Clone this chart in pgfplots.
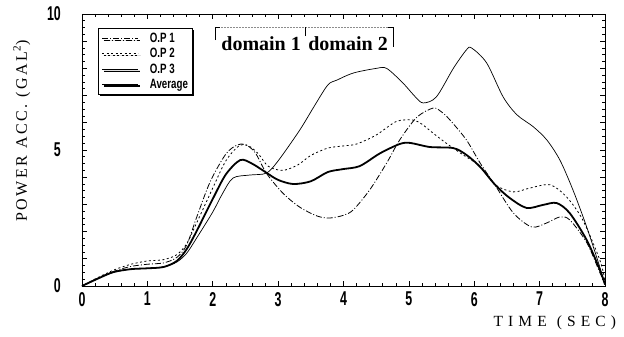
\documentclass[border=0pt]{standalone}
\usepackage{fontspec}
\setmainfont{Liberation Serif}
\usepackage{pgfplots}
\pgfplotsset{compat=1.18}
\usetikzlibrary{shadows}
\newfontfamily\tickfont[FakeStretch=0.62]{Liberation Sans}
\newfontfamily\legfont[FakeStretch=0.72]{Liberation Sans}
\newfontfamily\labfont[LetterSpace=16]{Liberation Serif}
\newfontfamily\xlabfont[LetterSpace=33]{Liberation Serif}
\newfontfamily\domfont{Liberation Serif}
\begin{document}
\begin{tikzpicture}
\begin{axis}[
  scale only axis, width=523pt, height=272pt,
  xmin=0, xmax=8, ymin=0, ymax=10,
  xtick={0,...,8}, minor x tick num=4,
  ytick={0,...,10}, yticklabels={0,,,,,5,,,,,10}, minor y tick num=3,
  tick align=inside, tick pos=both,
  major tick length=5pt, minor tick length=3pt,
  axis line style={line width=0.9pt},
  every tick/.style={black, line width=0.6pt},
  tick label style={font=\tickfont\bfseries\fontsize{20}{20}\selectfont},
  /pgf/number format/assume math mode=true,
  xticklabel style={inner sep=0pt, yshift=-6pt, anchor=north},
  yticklabel style={inner sep=0pt, xshift=-21pt, anchor=east},
  legend style={at={(0.031,0.949)}, anchor=north west, draw=black, line width=0.8pt, fill=white,
    drop shadow={shadow xshift=1.8pt, shadow yshift=-1.8pt, fill=black, opacity=1},
    font=\legfont\bfseries\fontsize{13.5}{13.5}\selectfont, inner sep=2.5pt, row sep=0.5pt,
    cells={anchor=west}, column sep=9pt},
  legend image code/.code={\draw[#1] (0pt,0pt) -- (36pt,0pt);},
  clip=false,
]
% O.P 1 (dash-dot)
\addplot[black, line width=0.8pt, smooth, tension=0.5, dash pattern=on 6pt off 2pt on 1pt off 2pt] coordinates {
(0,0) (0.25,0.3) (0.5,0.55) (0.75,0.72) (1.0,0.8) (1.25,0.85) (1.45,1.05) (1.6,1.5) (1.75,2.5) (1.96,3.83) (2.2,4.85) (2.37,5.18) (2.5,5.2) (2.65,4.9) (2.82,4.15) (3.07,3.42) (3.33,2.9) (3.6,2.57) (3.79,2.5) (4.0,2.6) (4.15,2.8) (4.4,3.53) (4.66,4.52) (4.86,5.37) (5.12,6.2) (5.37,6.54) (5.5,6.4) (5.63,6.1) (5.88,5.37) (6.09,4.52) (6.32,3.7) (6.6,2.68) (6.88,2.17) (7.11,2.32) (7.31,2.54) (7.46,2.43) (7.72,1.6) (7.92,0.5) (8.0,0.1)
};
\addlegendentry{O.P 1}
% O.P 2 (dotted)
\addplot[black, line width=0.8pt, smooth, tension=0.5, dash pattern=on 2pt off 2.5pt] coordinates {
(0,0) (0.25,0.32) (0.5,0.6) (0.75,0.8) (1.0,0.92) (1.25,0.97) (1.45,1.15) (1.6,1.55) (1.75,2.3) (2.0,3.6) (2.2,4.6) (2.4,5.15) (2.55,5.15) (2.7,4.85) (2.85,4.4) (3.07,4.25) (3.3,4.45) (3.5,4.8) (3.76,5.07) (4.0,5.15) (4.2,5.22) (4.5,5.55) (4.81,6.05) (5.06,6.1) (5.2,5.95) (5.37,5.62) (5.6,5.2) (5.83,4.82) (6.09,4.4) (6.32,3.72) (6.6,3.46) (6.85,3.6) (7.16,3.72) (7.41,3.28) (7.66,2.43) (7.92,0.96) (8.0,0.2)
};
\addlegendentry{O.P 2}
% O.P 3 (thin)
\addplot[black, line width=0.7pt, smooth, tension=0.5] coordinates {
(0,0) (0.25,0.28) (0.5,0.52) (0.75,0.62) (1.0,0.65) (1.25,0.7) (1.45,0.88) (1.6,1.2) (1.75,1.75) (2.0,2.72) (2.15,3.4) (2.31,3.97) (2.57,4.08) (2.82,4.15) (3.0,4.6) (3.33,5.73) (3.55,6.6) (3.76,7.39) (3.9,7.57) (4.15,7.83) (4.5,8.0) (4.66,8.0) (4.91,7.46) (5.1,6.95) (5.22,6.73) (5.42,6.95) (5.68,8.0) (5.88,8.68) (5.96,8.75) (6.19,8.2) (6.44,6.96) (6.65,6.3) (6.9,5.86) (7.11,5.37) (7.31,4.63) (7.51,3.53) (7.72,2.17) (7.92,0.7) (8.0,0.05)
};
\addlegendentry{O.P 3}
% Average (thick)
\addplot[black, line width=1.8pt, smooth, tension=0.5] coordinates {
(0,0) (0.25,0.28) (0.48,0.51) (0.75,0.62) (1.0,0.65) (1.25,0.7) (1.45,0.92) (1.6,1.35) (1.75,2.0) (2.0,3.2) (2.2,4.1) (2.42,4.63) (2.6,4.5) (2.83,4.15) (3.0,3.9) (3.23,3.75) (3.5,3.85) (3.76,4.19) (4.0,4.3) (4.25,4.41) (4.56,4.88) (4.86,5.22) (5.02,5.26) (5.32,5.11) (5.68,5.07) (5.88,4.82) (6.09,4.38) (6.32,3.72) (6.54,3.24) (6.8,2.87) (7.05,2.98) (7.26,3.05) (7.46,2.68) (7.72,1.69) (7.92,0.6) (8.0,0.05)
};
\addlegendentry{Average}
% domain annotation
\draw[black!45, densely dotted, line width=0.5pt] (axis cs:2.034,9.52) -- (axis cs:4.757,9.52);
\draw[black, line width=0.8pt] (axis cs:2.034,9.04) -- (axis cs:2.034,9.52) -- (axis cs:2.11,9.52);
\draw[black, line width=0.8pt] (axis cs:3.41,9.19) -- (axis cs:3.41,9.52);
\draw[black, line width=0.8pt] (axis cs:4.68,9.52) -- (axis cs:4.757,9.52) -- (axis cs:4.757,8.79);
\node[font=\domfont\bfseries\fontsize{20}{20}\selectfont, inner sep=0pt] at (axis cs:2.74,8.92) {domain 1};
\node[font=\domfont\bfseries\fontsize{20}{20}\selectfont, inner sep=0pt] at (axis cs:4.07,8.92) {domain 2};
% axis labels
\node[rotate=90, font=\labfont\fontsize{16}{16}\selectfont, inner sep=0pt] at (rel axis cs:-0.115,0.57) {POWER ACC. (GAL\textsuperscript{2})};
\node[font=\xlabfont\fontsize{15.5}{15.5}\selectfont, inner sep=0pt] at (rel axis cs:0.904,-0.136) {TIME\hspace{10pt}(SEC)};
\end{axis}
\pgfresetboundingbox
\path ([xshift=-82pt,yshift=-51pt]current axis.south west) rectangle ([xshift=19pt,yshift=14pt]current axis.north east);
\end{tikzpicture}
\end{document}
